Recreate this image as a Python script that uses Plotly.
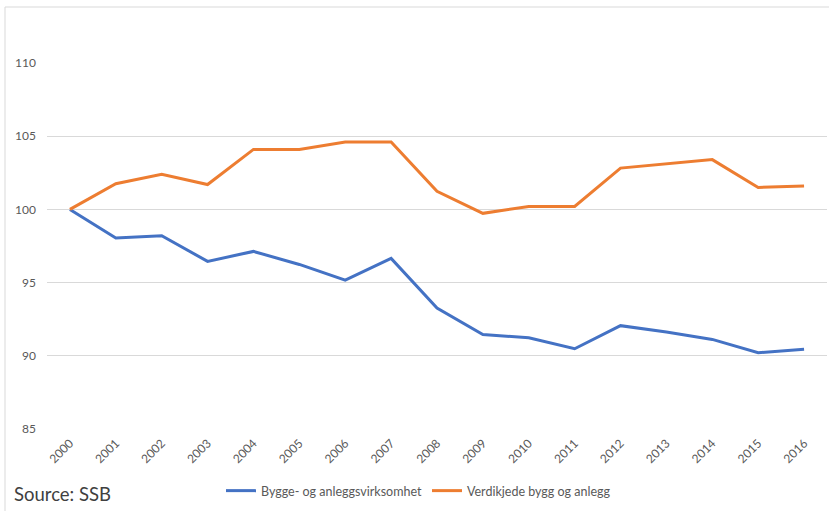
import plotly.graph_objects as go

years = [str(y) for y in range(2000, 2017)]
bygge = [100.0, 98.04, 98.2, 96.45, 97.13, 96.24, 95.17, 96.65, 93.26, 91.46,
         91.23, 90.48, 92.06, 91.62, 91.12, 90.21, 90.44]
verdikjede = [100.0, 101.75, 102.4, 101.7, 104.1, 104.1, 104.6, 104.6, 101.23, 99.73,
              100.2, 100.2, 102.82, 103.1, 103.4, 101.5, 101.6]
series_names = ["Bygge- og anleggsvirksomhet", "Verdikjede bygg og anlegg"]
y_ticks = [85, 90, 95, 100, 105, 110]

FONT = "Lato, Open Sans, sans-serif"
W, H = 829, 511
L, R, T, B = 47, 2, 63, 82

fig = go.Figure()
fig.add_trace(go.Scatter(x=years, y=bygge, mode="lines", name=series_names[0],
                         line=dict(color="#4472C4", width=3)))
fig.add_trace(go.Scatter(x=years, y=verdikjede, mode="lines", name=series_names[1],
                         line=dict(color="#ED7D31", width=3)))

pw = W - L - R
ph = H - T - B
def px_x(p):
    return (p - L) / pw
def px_y(p):
    return (H - B - p) / ph

fig.update_layout(
    width=W, height=H,
    margin=dict(l=L, r=R, t=T, b=B),
    paper_bgcolor="white", plot_bgcolor="white",
    font=dict(family=FONT, color="#595959", size=12),
    showlegend=True,
    legend=dict(orientation="h", x=px_x(221), y=px_y(491), xanchor="left", yanchor="middle",
                font=dict(size=12.5, color="#595959"), itemwidth=30,
                bgcolor="rgba(0,0,0,0)", tracegroupgap=0),
    xaxis=dict(type="category", range=[-0.5, 16.5], tickangle=-45, showgrid=False,
               showline=False, zeroline=False, ticks="", ticklabelstandoff=4,
               tickfont=dict(size=12, color="#595959")),
    yaxis=dict(range=[85, 110], tickvals=y_ticks, showgrid=True, gridcolor="#D9D9D9",
               gridwidth=1, zeroline=False, showline=False, ticks="",
               ticklabelstandoff=10, tickfont=dict(size=12, color="#595959")),
    shapes=[
        dict(type="line", xref="paper", yref="paper", x0=px_x(5), x1=px_x(829),
             y0=px_y(7), y1=px_y(7), line=dict(color="#D9D9D9", width=1)),
        dict(type="line", xref="paper", yref="paper", x0=px_x(5), x1=px_x(5),
             y0=px_y(7), y1=px_y(511), line=dict(color="#D9D9D9", width=1)),
    ],
    annotations=[
        dict(text="Source: SSB", xref="paper", yref="paper", x=px_x(12), y=px_y(494),
             xanchor="left", yanchor="middle", showarrow=False,
             font=dict(size=18.5, color="#404040", family=FONT)),
    ],
)

fig.write_html("out.html", config={"displayModeBar": False},
               post_script="document.body.style.margin='0';document.body.style.overflow='hidden';")
